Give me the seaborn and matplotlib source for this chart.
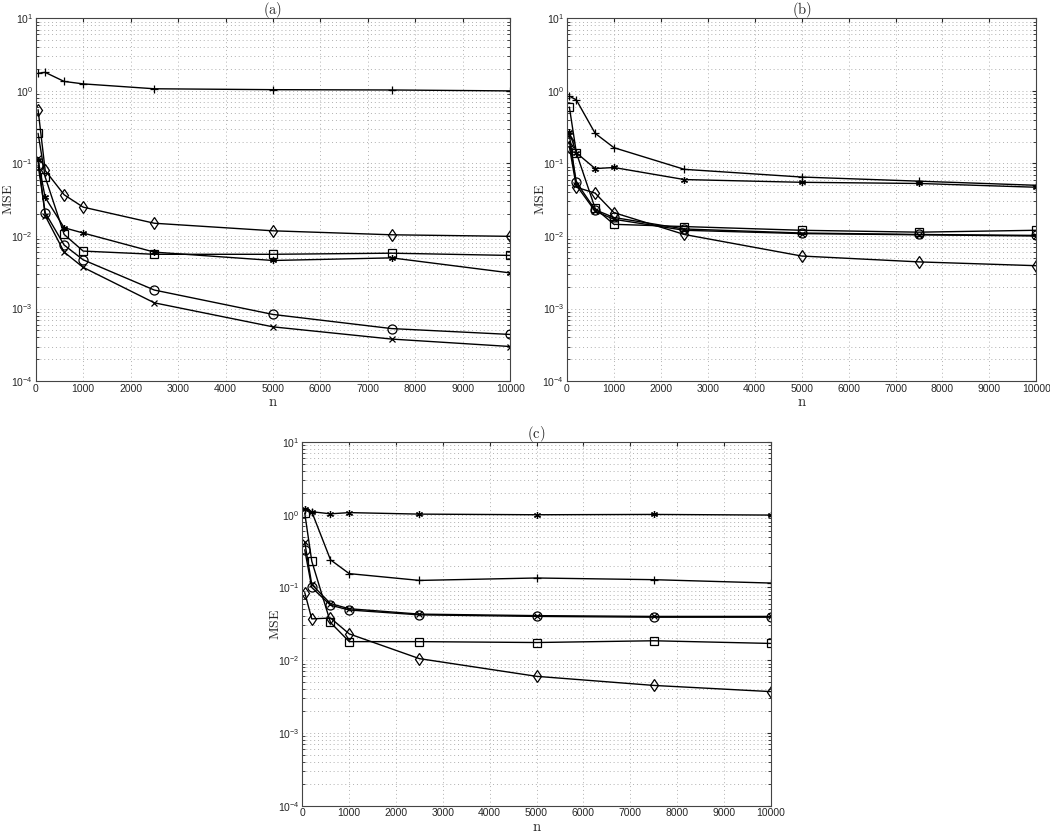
import seaborn as sns
import matplotlib.pyplot as plt
from matplotlib.ticker import LogLocator, NullFormatter

# sample sizes (same for every panel)
n_vals = [50, 200, 600, 1000, 2500, 5000, 7500, 10000]

# panel (a)
a_plus = [1.75, 1.8, 1.35, 1.25, 1.07, 1.04, 1.03, 1.0]
a_diamond = [0.55, 0.08, 0.037, 0.025, 0.015, 0.0118, 0.0104, 0.0099]
a_square = [0.26, 0.065, 0.0105, 0.0062, 0.0056, 0.0056, 0.0058, 0.0054]
a_star = [0.11, 0.034, 0.013, 0.011, 0.006, 0.0046, 0.005, 0.0031]
a_circle = [0.095, 0.021, 0.0075, 0.0047, 0.0018, 0.00083, 0.00053, 0.00044]
a_cross = [0.12, 0.019, 0.006, 0.0037, 0.0012, 0.00056, 0.00038, 0.0003]

# panel (b)
b_plus = [0.85, 0.75, 0.26, 0.165, 0.083, 0.065, 0.057, 0.05]
b_star = [0.27, 0.14, 0.085, 0.088, 0.06, 0.055, 0.053, 0.047]
b_square = [0.6, 0.14, 0.024, 0.0145, 0.0135, 0.012, 0.0113, 0.012]
b_circle = [0.2, 0.055, 0.023, 0.018, 0.0125, 0.011, 0.0105, 0.0102]
b_cross = [0.25, 0.05, 0.022, 0.017, 0.012, 0.0108, 0.0104, 0.01]
b_diamond = [0.17, 0.047, 0.039, 0.021, 0.0105, 0.0053, 0.0044, 0.0039]

# panel (c)
c_star = [1.2, 1.1, 1.03, 1.07, 1.02, 1.0, 1.01, 0.99]
c_plus = [1.15, 1.1, 0.24, 0.155, 0.125, 0.135, 0.128, 0.115]
c_square = [1.05, 0.23, 0.033, 0.018, 0.018, 0.0175, 0.0185, 0.017]
c_cross = [0.42, 0.11, 0.06, 0.051, 0.043, 0.041, 0.04, 0.04]
c_circle = [0.33, 0.1, 0.057, 0.049, 0.042, 0.04, 0.039, 0.039]
c_diamond = [0.085, 0.037, 0.038, 0.023, 0.0105, 0.006, 0.0045, 0.0037]

markers = {'plus': '+', 'circle': 'o', 'cross': 'x',
           'star': (6, 2, 0), 'square': 's', 'diamond': 'd'}
sizes = {'plus': 6, 'circle': 6.5, 'cross': 5, 'star': 5, 'square': 5.5, 'diamond': 6}

panels = [
    ('(a)', [0.034, 0.543, 0.452, 0.435],
     {'plus': a_plus, 'diamond': a_diamond, 'square': a_square,
      'star': a_star, 'circle': a_circle, 'cross': a_cross}),
    ('(b)', [0.540, 0.543, 0.447, 0.435],
     {'plus': b_plus, 'star': b_star, 'square': b_square,
      'circle': b_circle, 'cross': b_cross, 'diamond': b_diamond}),
    ('(c)', [0.288, 0.034, 0.446, 0.436],
     {'star': c_star, 'plus': c_plus, 'square': c_square,
      'cross': c_cross, 'circle': c_circle, 'diamond': c_diamond}),
]

sns.set_style('white')
plt.rcParams['mathtext.fontset'] = 'cm'
plt.rcParams['font.family'] = ['Liberation Sans', 'DejaVu Sans']

fig = plt.figure(figsize=(10.5, 8.34), dpi=100)

for title, rect, series in panels:
    ax = fig.add_axes(rect)
    for name, vals in series.items():
        sns.lineplot(x=n_vals, y=vals, ax=ax, color='black', lw=1.0,
                     marker=markers[name], ms=sizes[name],
                     mfc='none', mec='black', mew=0.9)
    ax.set_yscale('log')
    ax.set_ylim(1e-4, 1e1)
    ax.set_xlim(0, 10000)
    ax.set_xticks(range(0, 10001, 1000))
    ax.yaxis.set_minor_locator(LogLocator(base=10, subs=range(2, 10)))
    ax.yaxis.set_minor_formatter(NullFormatter())
    ax.grid(True, which='major', ls=(0, (1, 3)), color='#b0b0b0', lw=0.7)
    ax.grid(True, which='minor', axis='y', ls=(0, (1, 3)), color='#b0b0b0', lw=0.7)
    ax.tick_params(direction='in', labelsize=7.5, length=3, pad=2,
                   top=True, right=True)
    ax.tick_params(which='minor', direction='in', length=2, left=True, right=True)
    for s in ax.spines.values():
        s.set_color('#444444')
        s.set_linewidth(0.8)
    ax.set_title(r'$\mathrm{' + title + '}$', fontsize=10.5, pad=3)
    ax.set_xlabel(r'$\mathrm{n}$', fontsize=10.5, labelpad=1)
    ax.set_ylabel(r'$\mathrm{MSE}$', fontsize=10)
    ax.yaxis.set_label_coords(-0.043, 0.5)

plt.savefig('out.png', dpi=100)
